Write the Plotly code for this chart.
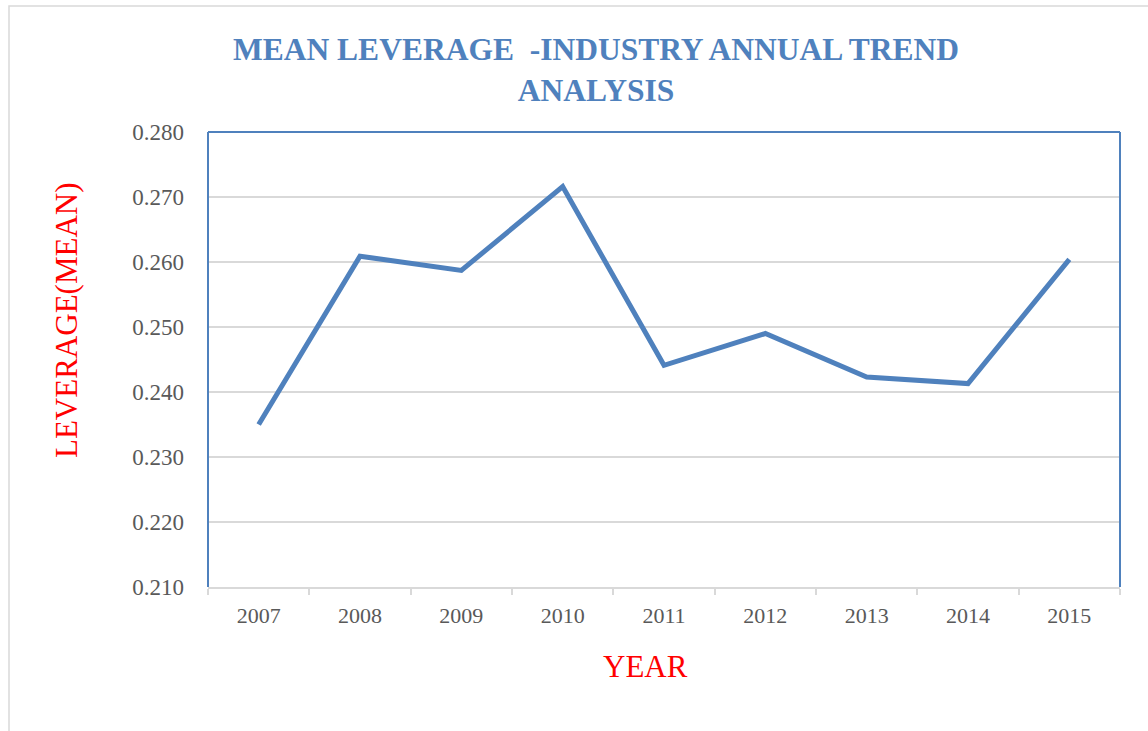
import plotly.graph_objects as go

years = ["2007", "2008", "2009", "2010", "2011", "2012", "2013", "2014", "2015"]
leverage = [0.2350, 0.2609, 0.2587, 0.2716, 0.2441, 0.2490, 0.2423, 0.2413, 0.2604]
y_ticks = [0.21, 0.22, 0.23, 0.24, 0.25, 0.26, 0.27, 0.28]
y_labels = ["0.210", "0.220", "0.230", "0.240", "0.250", "0.260", "0.270", "0.280"]

BLUE = "#4f81bd"
SERIF = "Liberation Serif, Times New Roman, serif"

fig = go.Figure()
fig.add_trace(go.Scatter(
    x=years, y=leverage, mode="lines",
    line=dict(color=BLUE, width=5), showlegend=False, hoverinfo="x+y",
))

L, R, T, B = 208, 28, 132, 144
W, H = 1148, 731
pw, ph = W - L - R, H - T - B

def px_x(p):
    return (p - L) / pw

def px_y(p):
    return (H - B - p) / ph

fig.update_layout(
    width=W, height=H,
    margin=dict(l=L, r=R, t=T, b=B, pad=0),
    paper_bgcolor="white", plot_bgcolor="white",
    font=dict(family=SERIF, color="#595959"),
    xaxis=dict(
        type="category", range=[-0.5, 8.5],
        showgrid=False, showline=True, linecolor="#d9d9d9", linewidth=1.5,
        ticks="outside", tickson="boundaries", ticklen=6, tickcolor="#d9d9d9",
        tickwidth=1.5, ticklabelstandoff=8,
        tickfont=dict(family=SERIF, size=22, color="#595959"),
        zeroline=False,
    ),
    yaxis=dict(
        range=[0.21, 0.28], tickvals=y_ticks, ticktext=y_labels,
        showgrid=True, gridcolor="#d9d9d9", gridwidth=1.5,
        showline=False, ticks="", ticklabelstandoff=23,
        tickfont=dict(family=SERIF, size=23, color="#595959"),
        zeroline=False,
    ),
    shapes=[
        # outer chart border
        dict(type="rect", xref="paper", yref="paper",
             x0=px_x(9), x1=px_x(1160), y0=px_y(745), y1=px_y(6),
             line=dict(color="#d9d9d9", width=1.5), layer="below"),
        # plot area border (left, top, right) in blue
        dict(type="line", xref="paper", yref="paper", x0=0, x1=0, y0=0, y1=1,
             line=dict(color=BLUE, width=2), layer="above"),
        dict(type="line", xref="paper", yref="paper", x0=0, x1=1, y0=1, y1=1,
             line=dict(color=BLUE, width=2), layer="above"),
        dict(type="line", xref="paper", yref="paper", x0=1, x1=1, y0=0, y1=1,
             line=dict(color=BLUE, width=2), layer="above"),
    ],
    annotations=[
        dict(text="<b>MEAN LEVERAGE  -INDUSTRY ANNUAL TREND<br>ANALYSIS</b>",
             xref="paper", yref="paper", x=px_x(596), y=px_y(70),
             xanchor="center", yanchor="middle", showarrow=False,
             font=dict(family=SERIF, size=31.5, color=BLUE)),
        dict(text="LEVERAGE(MEAN)", xref="paper", yref="paper",
             x=px_x(66), y=px_y(320), textangle=-90,
             xanchor="center", yanchor="middle", showarrow=False,
             font=dict(family=SERIF, size=31, color="#ff0000")),
        dict(text="YEAR", xref="paper", yref="paper",
             x=px_x(645), y=px_y(666),
             xanchor="center", yanchor="middle", showarrow=False,
             font=dict(family=SERIF, size=31, color="#ff0000")),
    ],
)

fig.write_html("out.html")
